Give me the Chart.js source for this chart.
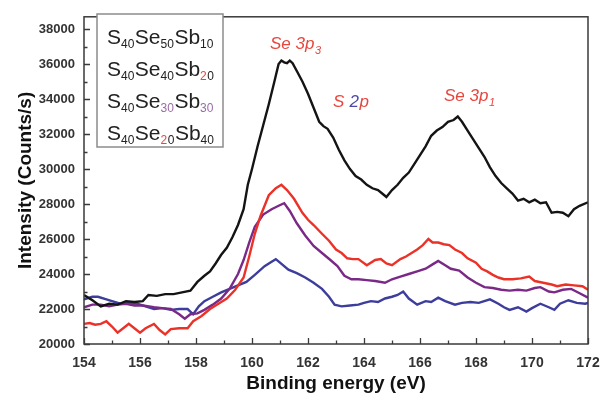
<!DOCTYPE html>
<html>
<head>
<meta charset="utf-8">
<script src="https://cdn.jsdelivr.net/npm/chart.js@4/dist/chart.umd.min.js"></script>
<style>
  html, body { margin: 0; padding: 0; background: #fff; }
  #wrap { width: 611px; height: 400px; }
</style>
</head>
<body>
<div id="wrap"><canvas id="c" width="611" height="400"></canvas></div>
<script>
// XPS spectra in the Se 3p / S 2p region
const seriesNames = ['S40Se50Sb10', 'S40Se40Sb20', 'S40Se30Sb30', 'S40Se20Sb40'];

const energyA = [154.0,154.3,154.6,154.9,155.2,155.5,155.8,156.1,156.3,156.6,156.9,157.2,157.5,157.8,158.05,158.3,158.5,158.7,158.9,159.1,159.3,159.5,159.7,159.85,160.0,160.2,160.4,160.6,160.8,160.95,161.05,161.15,161.25,161.35,161.45,161.6,161.8,162.0,162.2,162.4,162.55,162.7,162.9,163.1,163.3,163.5,163.7,163.9,164.1,164.3,164.5,164.65,164.8,165.0,165.2,165.4,165.6,165.8,166.0,166.2,166.4,166.6,166.8,167.0,167.2,167.35,167.5,167.7,167.9,168.1,168.3,168.5,168.7,168.9,169.1,169.3,169.5,169.7,169.9,170.1,170.3,170.5,170.7,170.9,171.1,171.3,171.5,171.7,172.0];
const countsA = [22800,22500,22150,22300,22250,22450,22400,22450,22800,22750,22850,22850,22950,23050,23550,23900,24150,24600,25100,25500,26100,26800,27700,29100,30000,31300,32500,33700,35000,36000,36200,36100,36050,36200,36050,35600,35000,34300,33500,32700,32450,32300,31800,31100,30500,30000,29600,29400,29100,28900,28800,28600,28400,28800,29100,29500,29800,30300,30800,31300,31900,32200,32400,32700,32800,33000,32700,32200,31700,31200,30700,30100,29600,29200,28900,28600,28200,28300,28100,28250,28050,28100,27500,27550,27500,27300,27700,27900,28100];

const energyB = [154.0,154.2,154.4,154.6,154.8,155.0,155.2,155.4,155.6,155.8,156.0,156.2,156.5,156.7,156.9,157.1,157.4,157.7,157.9,158.2,158.5,158.8,159.1,159.4,159.7,159.9,160.1,160.3,160.6,160.85,161.05,161.25,161.5,161.8,162.0,162.2,162.5,162.75,163.0,163.2,163.4,163.6,163.8,164.1,164.4,164.6,164.8,165.0,165.3,165.5,165.7,165.9,166.1,166.3,166.45,166.65,166.85,167.05,167.25,167.5,167.7,168.0,168.2,168.4,168.6,168.8,169.0,169.3,169.6,169.9,170.1,170.4,170.7,170.9,171.2,171.5,171.8,172.0];
const countsB = [21150,21200,21100,21150,21300,21000,20650,20900,21150,20900,20650,20900,21150,20800,20550,20850,20900,20900,21300,21600,22000,22300,22600,23100,23800,25000,26300,27300,28500,28900,29100,28800,28300,27500,27100,26800,26300,25900,25400,25200,24900,24850,24850,24500,24800,24850,24600,24500,24850,25000,25200,25400,25650,26000,25800,25800,25700,25650,25400,25200,24900,24650,24300,24150,23950,23800,23700,23700,23750,23850,23600,23500,23400,23300,23400,23350,23300,23100];

const energyC = [154.0,154.3,154.6,154.9,155.2,155.5,155.8,156.1,156.5,156.8,157.1,157.4,157.6,157.8,158.05,158.3,158.6,158.9,159.2,159.5,159.7,159.9,160.1,160.4,160.7,160.95,161.15,161.35,161.6,161.9,162.2,162.5,162.8,163.05,163.3,163.55,163.8,164.1,164.4,164.75,165.0,165.3,165.6,165.9,166.2,166.45,166.65,166.9,167.1,167.4,167.7,168.0,168.3,168.6,168.9,169.2,169.5,169.8,170.1,170.3,170.6,170.8,171.1,171.4,171.7,172.0];
const countsC = [22100,22250,22250,22150,22250,22300,22200,22200,22100,22050,22000,21700,21450,21700,21750,21950,22250,22600,23150,24000,24800,25800,26700,27400,27700,27900,28050,27600,26900,26200,25600,25200,24800,24450,23900,23700,23700,23650,23600,23500,23700,23850,24000,24150,24300,24550,24750,24500,24300,24200,23800,23500,23250,23200,23100,23050,23100,23050,23200,23250,23000,22950,23100,23150,22900,22650];

const energyD = [154.0,154.3,154.5,154.8,155.0,155.3,155.6,155.9,156.2,156.5,156.8,157.1,157.4,157.7,157.9,158.1,158.3,158.6,158.9,159.2,159.5,159.8,160.1,160.45,160.7,160.85,161.0,161.3,161.6,161.9,162.2,162.5,162.75,162.95,163.2,163.5,163.8,164.0,164.25,164.5,164.75,165.0,165.2,165.4,165.6,165.9,166.2,166.4,166.65,166.9,167.25,167.5,167.8,168.1,168.5,168.8,169.0,169.2,169.5,169.8,170.0,170.3,170.6,170.8,171.0,171.3,171.6,171.9,172.0];
const countsD = [22550,22700,22700,22550,22450,22300,22350,22300,22150,22000,22050,21950,22000,22000,21700,22150,22450,22700,22950,23150,23350,23550,23950,24450,24700,24850,24650,24250,24050,23800,23500,23150,22700,22250,22150,22200,22250,22350,22450,22400,22600,22700,22800,23000,22600,22250,22450,22400,22650,22450,22250,22350,22400,22350,22550,22300,22100,21950,22100,21850,22050,22300,22100,21950,22300,22500,22350,22300,22350];

const xTickValues = [154,156,158,160,162,164,166,168,170,172];
const yTickValues = [20000,22000,24000,26000,28000,30000,32000,34000,36000,38000];

const lineColors = ['#141414', '#ea3228', '#7a2a86', '#3d3d9c'];

function pairs(xs, ys) { return xs.map((x, i) => ({ x: x, y: ys[i] })); }

const RED = '#e8453c', PURPLE = '#9a6aa8', BLUE = '#4a4aa8', INK = '#222';
const FAMILY = '"Liberation Sans", Arial, sans-serif';

// legend rows: [text, color, isSubscript]
const legendRows = [
  [['S', INK, 0], ['40', INK, 1], ['Se', INK, 0], ['50', INK, 1], ['Sb', INK, 0], ['10', INK, 1]],
  [['S', INK, 0], ['40', INK, 1], ['Se', INK, 0], ['40', INK, 1], ['Sb', INK, 0], ['2', RED, 1], ['0', INK, 1]],
  [['S', INK, 0], ['40', INK, 1], ['Se', INK, 0], ['30', PURPLE, 1], ['Sb', INK, 0], ['30', PURPLE, 1]],
  [['S', INK, 0], ['40', INK, 1], ['Se', INK, 0], ['2', RED, 1], ['0', INK, 1], ['Sb', INK, 0], ['40', INK, 1]]
];

// frame, inward ticks, legend box and peak labels
const decorations = {
  id: 'decorations',
  afterDraw(chart) {
    const ctx = chart.ctx;
    const a = chart.chartArea;
    const xs = chart.scales.x, ys = chart.scales.y;
    ctx.save();
    ctx.strokeStyle = '#3a3a3a';
    ctx.lineWidth = 1.5;
    ctx.strokeRect(a.left, a.top, a.right - a.left, a.bottom - a.top);

    ctx.lineWidth = 1.3;
    ctx.beginPath();
    for (let v = 154; v <= 172; v += 1) {
      const px = Math.round(xs.getPixelForValue(v)) + 0.5;
      const len = (v % 2 === 0) ? 6 : 3.5;
      ctx.moveTo(px, a.bottom); ctx.lineTo(px, a.bottom - len);
    }
    for (let v = 20000; v <= 38000; v += 1000) {
      const py = Math.round(ys.getPixelForValue(v)) + 0.5;
      const len = (v % 2000 === 0) ? 6 : 3.5;
      ctx.moveTo(a.left, py); ctx.lineTo(a.left + len, py);
    }
    ctx.stroke();

    // legend box
    ctx.fillStyle = '#fff';
    ctx.fillRect(97, 14, 126, 133);
    ctx.strokeStyle = '#8c8c8c';
    ctx.lineWidth = 1.5;
    ctx.strokeRect(97, 14, 126, 133);
    const rowY = [44, 76, 108, 140];
    ctx.textBaseline = 'alphabetic';
    ctx.textAlign = 'left';
    legendRows.forEach((row, r) => {
      let x = 107;
      row.forEach(([t, col, sub]) => {
        ctx.font = sub ? '12px ' + FAMILY : '21px ' + FAMILY;
        ctx.fillStyle = col;
        ctx.fillText(t, x, rowY[r] + (sub ? 4 : 0));
        x += ctx.measureText(t).width + (sub ? 0.5 : 0);
      });
    });

    // peak labels
    const bigI = 'italic 17px ' + FAMILY;
    const subI = 'italic 11px ' + FAMILY;
    function label(parts, x, y) {
      parts.forEach(([t, col, sub]) => {
        ctx.font = sub ? subI : bigI;
        ctx.fillStyle = col;
        ctx.fillText(t, x, y + (sub ? 5 : 0));
        x += ctx.measureText(t).width + (sub ? 0 : 0.5);
      });
    }
    label([['Se 3p', RED, 0], ['3', RED, 1]], 270, 49);
    label([['S ', RED, 0], ['2', BLUE, 0], ['p', RED, 0]], 333, 107);
    label([['Se 3p', RED, 0], ['1', RED, 1]], 444, 101);
    ctx.restore();
  }
};

new Chart(document.getElementById('c'), {
  type: 'line',
  data: {
    datasets: [
      { label: seriesNames[0], data: pairs(energyA, countsA), borderColor: lineColors[0] },
      { label: seriesNames[1], data: pairs(energyB, countsB), borderColor: lineColors[1] },
      { label: seriesNames[2], data: pairs(energyC, countsC), borderColor: lineColors[2] },
      { label: seriesNames[3], data: pairs(energyD, countsD), borderColor: lineColors[3] }
    ].map(d => Object.assign(d, { borderWidth: 2.4, pointRadius: 0, tension: 0, fill: false }))
  },
  options: {
    responsive: false,
    animation: false,
    devicePixelRatio: 1,
    layout: { padding: { left: 0, right: 23, top: 8, bottom: 0 } },
    plugins: { legend: { display: false }, tooltip: { enabled: false } },
    scales: {
      x: {
        type: 'linear', min: 154, max: 172,
        afterBuildTicks: s => { s.ticks = xTickValues.map(v => ({ value: v })); },
        afterFit: s => { s.height = 56; },
        grid: { display: false, drawTicks: false, tickLength: 0 },
        border: { display: false },
        ticks: { color: '#333', padding: 11, maxRotation: 0, autoSkip: false,
                 callback: v => String(v),
                 font: { family: FAMILY, size: 14, weight: 'bold' } },
        title: { display: true, text: 'Binding energy (eV)', color: '#111', padding: { top: 0, bottom: 5 },
                 font: { family: FAMILY, size: 19, weight: 'bold' } }
      },
      y: {
        type: 'linear', min: 20000, max: 38700,
        afterBuildTicks: s => { s.ticks = yTickValues.map(v => ({ value: v })); },
        afterFit: s => { s.width = 84; },
        grid: { display: false, drawTicks: false, tickLength: 0 },
        border: { display: false },
        ticks: { color: '#333', padding: 9,
                 callback: v => String(v),
                 font: { family: FAMILY, size: 13, weight: 'bold' } },
        title: { display: true, text: 'Intensity (Counts/s)', color: '#111', padding: { top: 14, bottom: 0 },
                 font: { family: FAMILY, size: 19, weight: 'bold' } }
      }
    }
  },
  plugins: [decorations]
});
</script>
</body>
</html>
